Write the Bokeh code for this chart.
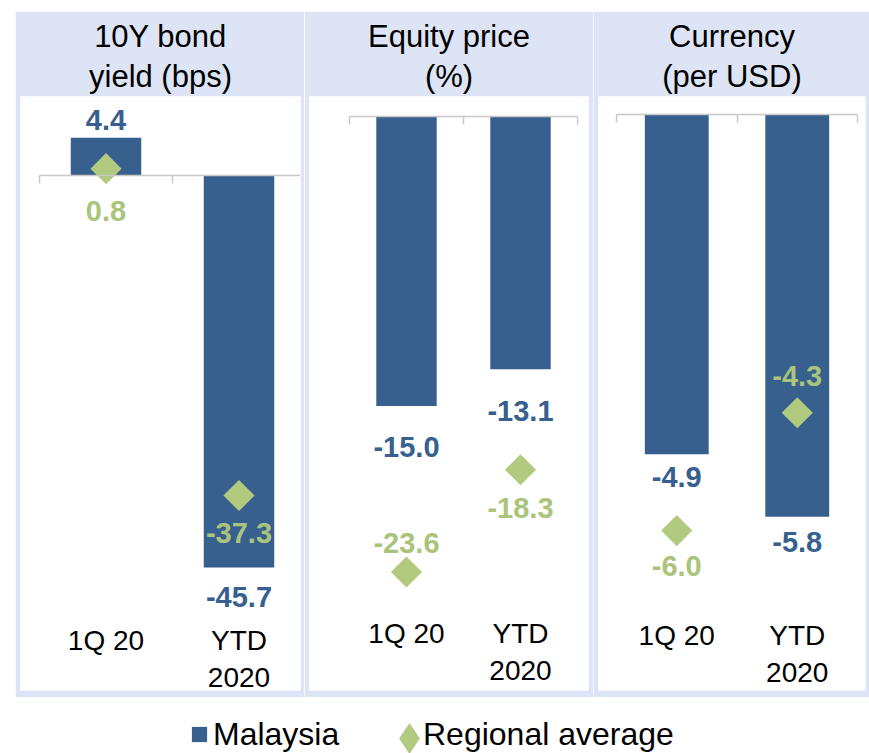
import math
from bokeh.plotting import figure
from bokeh.models import (ColumnDataSource, Range1d, LinearAxis, FixedTicker,
                          Legend, LegendItem, Spacer, Title)
from bokeh.layouts import column, row
from bokeh.embed import file_html
from bokeh.resources import INLINE
from bokeh.core.properties import value

# ---------------- data ----------------
periods = ["1Q 20", "YTD\n2020"]
panel_titles = [["10Y bond", "yield (bps)"], ["Equity price", "(%)"], ["Currency", "(per USD)"]]
series_names = ["Malaysia", "Regional average"]

bond_malaysia = [4.4, -45.7]
bond_regional = [0.8, -37.3]
equity_malaysia = [-15.0, -13.1]
equity_regional = [-23.6, -18.3]
currency_malaysia = [-4.9, -5.8]
currency_regional = [-6.0, -4.3]

# ---------------- styles / layout ----------------
BAND = "#dde4f5"
BLUE = "#37608f"
GREEN = "#b2ca80"
GREEN_TXT = "#aac47c"
AXIS_GRAY = "#c8c8c8"
FONT = "Liberation Sans"

FIG_H = 686
BORDER_TOP = 85
BORDER_BOTTOM = 7
FRAME_H = FIG_H - BORDER_TOP - BORDER_BOTTOM

panels = [
    dict(title=panel_titles[0], mal=bond_malaysia, reg=bond_regional,
         width=289, bl=5, br=4, x0_px=19, unit_px=133.0, zero_px=79, scale=8.58,
         cat_px=528, mal_dy=[-18, 29], reg_dy=[42, 37]),
    dict(title=panel_titles[1], mal=equity_malaysia, reg=equity_regional,
         width=289, bl=5, br=5, x0_px=40, unit_px=114.0, zero_px=20, scale=19.3,
         cat_px=521, mal_dy=[41, 42], reg_dy=[-29, 38]),
    dict(title=panel_titles[2], mal=currency_malaysia, reg=currency_regional,
         width=276, bl=5, br=4, x0_px=18, unit_px=120.5, zero_px=18.3, scale=69.3,
         cat_px=523, mal_dy=[23, 25], reg_dy=[35, -37]),
]


def fmt(v):
    return f"{v:.1f}"


def title(text, standoff):
    return Title(text=text, align="center", text_font=FONT, text_font_size="31px",
                 text_font_style="normal", text_color="black", standoff=standoff)


figs = []
for cfg in panels:
    frame_w = cfg["width"] - cfg["bl"] - cfg["br"]
    xs = -cfg["x0_px"] / cfg["unit_px"]
    xe = (frame_w - cfg["x0_px"]) / cfg["unit_px"]
    ye = cfg["zero_px"] / cfg["scale"]
    ys = -(FRAME_H - cfg["zero_px"]) / cfg["scale"]

    p = figure(width=cfg["width"], height=FIG_H,
               x_range=Range1d(xs, xe), y_range=Range1d(ys, ye),
               x_axis_type=None, y_axis_type=None, title=None,
               output_backend="svg", toolbar_location=None,
               min_border_left=cfg["bl"], min_border_right=cfg["br"],
               min_border_top=BORDER_TOP, min_border_bottom=BORDER_BOTTOM,
               border_fill_color=BAND, background_fill_color="white",
               outline_line_color=None)
    # two centred title lines (second line nearest the plot)
    p.add_layout(title(cfg["title"][1], 6), "above")
    p.add_layout(title(cfg["title"][0], 0), "above")

    xpos = [i + 0.5 for i in range(len(periods))]
    src = ColumnDataSource(dict(
        x=xpos, mal=cfg["mal"], reg=cfg["reg"],
        mal_lab=[fmt(v) for v in cfg["mal"]],
        reg_lab=[fmt(v) for v in cfg["reg"]],
        mal_dy=cfg["mal_dy"], reg_dy=cfg["reg_dy"],
    ))

    # zero line with category-boundary ticks
    nb = len(periods)
    zaxis = LinearAxis(ticker=FixedTicker(ticks=list(range(nb + 1))),
                       fixed_location=0, bounds=(0, min(nb, xe)),
                       major_label_overrides={float(i): "" for i in range(nb + 1)},
                       major_label_text_font_size="1px",
                       axis_line_color=AXIS_GRAY, axis_line_width=1.5,
                       major_tick_line_color=AXIS_GRAY, major_tick_line_width=1.5,
                       major_tick_in=0, major_tick_out=8,
                       minor_tick_line_color=None)
    p.add_layout(zaxis, "below")

    # category labels
    cat_loc = -(cfg["cat_px"] - cfg["zero_px"]) / cfg["scale"]
    caxis = LinearAxis(ticker=FixedTicker(ticks=xpos),
                       fixed_location=cat_loc,
                       major_label_overrides={x: lab for x, lab in zip(xpos, periods)},
                       major_label_text_font=FONT,
                       major_label_text_font_size="28px",
                       major_label_text_color="black",
                       major_label_standoff=0,
                       axis_line_color=None, major_tick_line_color=None,
                       major_tick_in=0, major_tick_out=0,
                       minor_tick_line_color=None)
    p.add_layout(caxis, "below")

    p.vbar(x="x", top="mal", bottom=0, width=0.53, source=src,
           fill_color=BLUE, line_color=None)
    p.scatter(x="x", y="reg", source=src, marker="square", size=22,
              angle=math.pi / 4, fill_color=GREEN, line_color=None)

    p.text(x="x", y="mal", text="mal_lab", y_offset="mal_dy", source=src,
           text_align="center", text_baseline="middle",
           text_font=value(FONT), text_font_size="29px",
           text_font_style="bold", text_color=BLUE)
    p.text(x="x", y="reg", text="reg_lab", y_offset="reg_dy", source=src,
           text_align="center", text_baseline="middle",
           text_font=value(FONT), text_font_size="29px",
           text_font_style="bold", text_color=GREEN_TXT)
    figs.append(p)

# ---------------- legend strip ----------------
lp = figure(width=869, height=56, x_range=Range1d(0, 1), y_range=Range1d(0, 1),
            x_axis_type=None, y_axis_type=None, output_backend="svg",
            toolbar_location=None, min_border=0, outline_line_color=None,
            border_fill_color="white", background_fill_color="white")
lx = [i + 0.5 for i in range(len(periods))]
# hidden renderers: only their legend samples are shown
r_mal = lp.scatter(x=lx, y=bond_malaysia, marker="square",
                   fill_color=BLUE, line_color=None, visible=False)
r_reg = lp.scatter(x=lx, y=bond_regional, marker="diamond",
                   fill_color=GREEN, line_color=None, visible=False)

common = dict(padding=0, margin=0, spacing=0, background_fill_alpha=0,
              border_line_alpha=0, label_text_font=FONT,
              label_text_font_size="32px", label_text_color="black",
              label_standoff=0, label_height=38,
              inactive_fill_alpha=0, click_policy="none")
# glyph samples
g1 = Legend(items=[LegendItem(label=" ", renderers=[r_mal])],
            location=(180, 0), glyph_width=38, glyph_height=38, **common)
g2 = Legend(items=[LegendItem(label=" ", renderers=[r_reg])],
            location=(370, -24), glyph_width=78, glyph_height=78, **common)
# labels (tiny sample box so that the text sits right next to the marker)
t1 = Legend(items=[LegendItem(label=series_names[0], renderers=[r_mal])],
            location=(212, 0), glyph_width=1, glyph_height=1, **common)
t2 = Legend(items=[LegendItem(label=series_names[1], renderers=[r_reg])],
            location=(422, 0), glyph_width=1, glyph_height=1, **common)
for lg in (g1, g2, t1, t2):
    lp.add_layout(lg)

layout = column(Spacer(height=11),
                row(Spacer(width=15), *figs),
                lp)

open("out.html", "w").write(file_html(layout, INLINE))
